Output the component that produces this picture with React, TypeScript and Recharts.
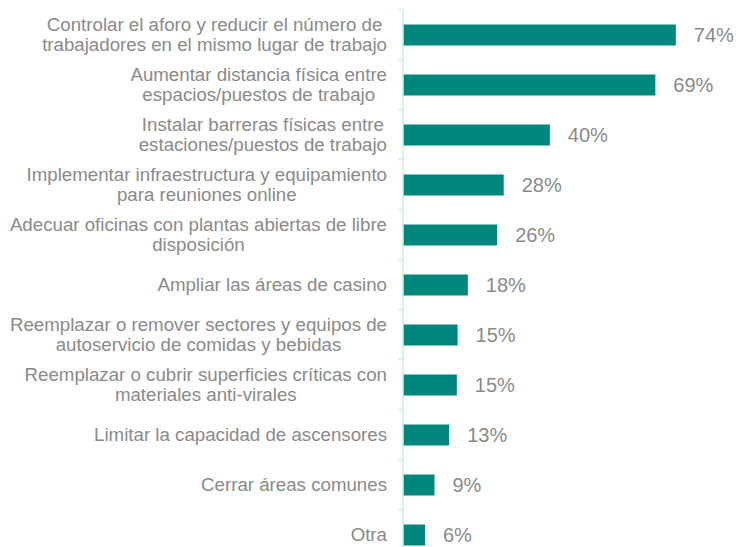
import React from 'react';
import { BarChart, Bar, XAxis, YAxis, LabelList } from 'recharts';

if (typeof document !== 'undefined') {
  document.body.style.margin = '0';
}

const categories: string[][] = [
  ['Controlar el aforo y reducir el número de', 'trabajadores en el mismo lugar de trabajo'],
  ['Aumentar distancia física entre', 'espacios/puestos de trabajo'],
  ['Instalar barreras físicas entre', 'estaciones/puestos de trabajo'],
  ['Implementar infraestructura y equipamiento', 'para reuniones online'],
  ['Adecuar oficinas con plantas abiertas de libre', 'disposición'],
  ['Ampliar las áreas de casino'],
  ['Reemplazar o remover sectores y equipos de', 'autoservicio de comidas y bebidas'],
  ['Reemplazar o cubrir superficies críticas con', 'materiales anti-virales'],
  ['Limitar la capacidad de ascensores'],
  ['Cerrar áreas comunes'],
  ['Otra'],
];
const values = [74.5, 68.9, 40.1, 27.5, 25.7, 17.7, 14.9, 14.7, 12.6, 8.6, 6.0];
const valueLabels = ['74%', '69%', '40%', '28%', '26%', '18%', '15%', '15%', '13%', '9%', '6%'];

const data = categories.map((lines, i) => ({
  name: lines.join(' '),
  lines,
  value: values[i],
  label: valueLabels[i],
}));

const FONT = '"Liberation Sans", Arial, sans-serif';
const CAT_FS = 18.7;
const LINE_H = 20;
const TEXT_GAP = 16;
const AXIS_COLOR = '#ccf2d8';
const TEXT_COLOR = '#8a8a8a';

let ctx: CanvasRenderingContext2D | null = null;
function measure(t: string): number {
  if (!ctx) {
    const c = document.createElement('canvas');
    ctx = c.getContext('2d');
  }
  if (!ctx) return t.length * CAT_FS * 0.5;
  ctx.font = `${CAT_FS}px ${FONT}`;
  return ctx.measureText(t).width;
}

const CatTick = (props: any) => {
  const { x, y, payload, index } = props;
  const idx = payload.index ?? index;
  const item = data[idx] || data.find((d) => d.name === payload.value);
  const lines: string[] = item ? item.lines : [String(payload.value)];
  const axisX = x + 6;
  const right = axisX - TEXT_GAP;
  const maxW = Math.max(...lines.map(measure));
  const cx = right - maxW / 2;
  const half = payload.offset ?? 25;
  const isLast = idx === data.length - 1;
  return (
    <g>
      <line x1={axisX - 5} x2={axisX} y1={y - half} y2={y - half} stroke={AXIS_COLOR} strokeWidth={1.5} />
      {isLast && (
        <line x1={axisX - 5} x2={axisX} y1={y + half} y2={y + half} stroke={AXIS_COLOR} strokeWidth={1.5} />
      )}
      {lines.map((l, i) => (
        <text
          key={i}
          x={cx}
          y={y + (i - (lines.length - 1) / 2) * LINE_H}
          dy="0.35em"
          textAnchor="middle"
          fill={TEXT_COLOR}
          fontSize={CAT_FS}
          fontFamily={FONT}
        >
          {l}
        </text>
      ))}
    </g>
  );
};

export default function App() {
  return (
    <div style={{ width: 736, height: 547, overflow: 'hidden', background: '#ffffff' }}>
      <BarChart
        layout="vertical"
        width={736}
        height={562}
        data={data}
        margin={{ top: 9.5, right: 40, bottom: 2.5, left: 0 }}
        style={{ overflow: 'visible' }}
      >
        <XAxis type="number" domain={[0, 80]} hide />
        <YAxis
          type="category"
          dataKey="name"
          width={403}
          axisLine={{ stroke: AXIS_COLOR, strokeWidth: 1.5 }}
          tickLine={false}
          tickMargin={0}
          interval={0}
          tick={<CatTick />}
        />
        <Bar dataKey="value" fill="#00877D" barSize={21} isAnimationActive={false}>
          <LabelList
            dataKey="label"
            position="right"
            offset={18}
            fill={TEXT_COLOR}
            fontSize={20}
            fontFamily={FONT}
          />
        </Bar>
      </BarChart>
    </div>
  );
}
